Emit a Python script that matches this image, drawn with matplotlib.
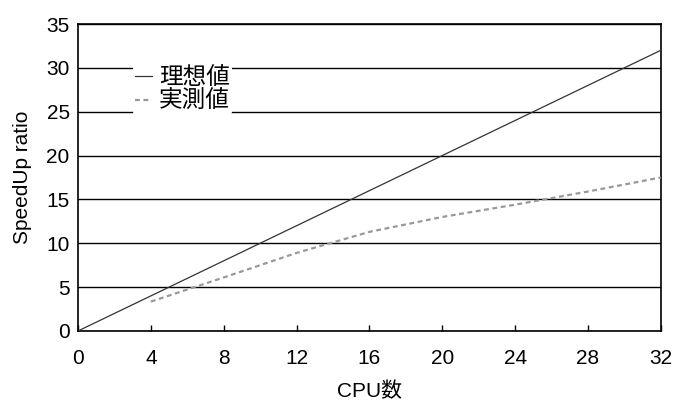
import matplotlib
matplotlib.use("Agg")
import matplotlib.pyplot as plt

plt.rcParams['font.family'] = ['Liberation Sans', 'Noto Sans CJK JP', 'DejaVu Sans']

ideal_x = [0, 32]
ideal_y = [0, 32]
cpus = [4, 8, 12, 16, 20, 24, 28, 32]
measured = [3.35, 6.1, 8.9, 11.3, 13.0, 14.4, 15.9, 17.5]
xticks = [0, 4, 8, 12, 16, 20, 24, 28, 32]
yticks = [0, 5, 10, 15, 20, 25, 30, 35]

FS = 15

fig = plt.figure(figsize=(6.8, 4.03), dpi=100)
ax = fig.add_axes([0.1147, 0.1787, 0.857, 0.7617])

ax.plot(ideal_x, ideal_y, color='#333333', lw=0.9, label='理想値', zorder=3)
ax.plot(cpus, measured, color='#999999', lw=1.6, linestyle=(0, (2.2, 1.6)), label='実測値', zorder=3)

ax.set_xlim(0, 32)
ax.set_ylim(0, 35)
ax.set_xticks(xticks)
ax.set_yticks(yticks)
ax.tick_params(axis='x', direction='in', length=4, width=1, labelsize=FS, pad=13)
ax.tick_params(axis='y', length=0, labelsize=FS, pad=6)
ax.yaxis.grid(True, color='black', lw=1)
ax.set_axisbelow(True)
for s in ax.spines.values():
    s.set_linewidth(1.2)
    s.set_color('black')

ax.set_xlabel('CPU数', fontsize=FS, labelpad=10)
ax.set_ylabel('SpeedUp ratio', fontsize=FS, labelpad=10)

leg = ax.legend(loc='upper left', bbox_to_anchor=(0.094, 0.868), frameon=True,
                fontsize=17, handlelength=0.7, handletextpad=0.3, labelspacing=0.1,
                borderpad=0.1, borderaxespad=0)
leg.get_frame().set_edgecolor('none')
leg.get_frame().set_facecolor('white')
leg.get_frame().set_alpha(1)

fig.savefig('out.png', dpi=100)
